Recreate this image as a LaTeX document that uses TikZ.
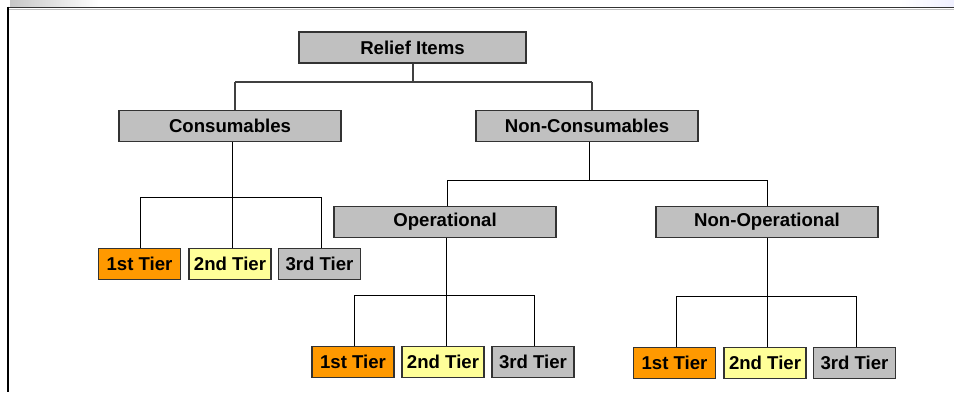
\documentclass[tikz,border=0pt]{standalone}
\usepackage{fontspec}
\setmainfont{Liberation Sans}
\definecolor{boxgray}{HTML}{C0C0C0}
\definecolor{tierorange}{HTML}{FF9900}
\definecolor{tieryellow}{HTML}{FFFF99}
\definecolor{edgegray}{HTML}{333333}
\begin{document}
\begin{tikzpicture}[x=1pt,y=-1pt,
  every node/.style={font=\fontsize{18.6}{21}\selectfont\bfseries, inner sep=0pt, text=black},
  catbox/.style={draw=edgegray, line width=1.3pt, fill=boxgray, minimum height=31pt},
  tierbox/.style={draw=edgegray, line width=1.3pt, minimum width=82pt, minimum height=31pt},
  conn/.style={draw=black, line width=1pt},
  busline/.style={draw=black!75, line width=1.5pt}]
\useasboundingbox (0,0) rectangle (954,392);
% frame
\shade[left color=gray!45, right color=white] (10,0) rectangle (100,6);
\shade[left color=white, right color=blue!6] (900,0) rectangle (954,6);
\draw[black!80, line width=1.6pt] (8,7.5) -- (954,7.5);
\draw[black!25, line width=0.8pt] (9,9.2) -- (954,9.2);
\draw[black, line width=2.6pt] (8,6.5) -- (8,392);
% boxes
\node[catbox, minimum width=227pt] (rel) at (412.5,47.5) {Relief Items};
\node[catbox, minimum width=222pt] (con) at (230,126) {Consumables};
\node[catbox, minimum width=222pt] (ncon) at (587,126) {Non-Consumables};
\node[catbox, minimum width=222pt] (op) at (445,222) {Operational};
\node[catbox, minimum width=222pt] (nop) at (767,222) {Non-Operational};
\node[tierbox, fill=tierorange] (c1) at (139.5,264) {1st Tier};
\node[tierbox, fill=tieryellow] (c2) at (230,264) {2nd Tier};
\node[tierbox, fill=boxgray] (c3) at (319.5,264) {3rd Tier};
\node[tierbox, fill=tierorange] (o1) at (353,362) {1st Tier};
\node[tierbox, fill=tieryellow] (o2) at (443,362) {2nd Tier};
\node[tierbox, fill=boxgray] (o3) at (533,362) {3rd Tier};
\node[tierbox, fill=tierorange] (n1) at (674.5,363) {1st Tier};
\node[tierbox, fill=tieryellow] (n2) at (765,363) {2nd Tier};
\node[tierbox, fill=boxgray] (n3) at (854.5,363) {3rd Tier};
% junction coordinates
\coordinate (rj) at (413,82);
\coordinate (rl) at (235,82);
\coordinate (rr) at (592,82);
\coordinate (cj) at (232,197);
\coordinate (cl) at (140,197);
\coordinate (cr) at (321,197);
\coordinate (nj) at (589,180);
\coordinate (nl) at (447,180);
\coordinate (nr) at (767,180);
\coordinate (oj) at (446,295);
\coordinate (ol) at (354,295);
\coordinate (or) at (534,295);
\coordinate (qj) at (767,296);
\coordinate (ql) at (676,296);
\coordinate (qr) at (856,296);
% level 1
\draw[busline] (rel.south -| rj) -- (rj);
\draw[busline] (rl) -- (rr);
\draw[busline] (rl) -- (rl |- con.north);
\draw[busline] (rr) -- (rr |- ncon.north);
% consumables
\draw[conn] (con.south -| cj) -- (cj);
\draw[conn] (cl) -- (cr);
\draw[conn] (cl) -- (cl |- c1.north);
\draw[conn] (cj) -- (cj |- c2.north);
\draw[conn] (cr) -- (cr |- c3.north);
% non-consumables
\draw[conn] (ncon.south -| nj) -- (nj);
\draw[conn] (nl) -- (nr);
\draw[conn] (nl) -- (nl |- op.north);
\draw[conn] (nr) -- (nr |- nop.north);
% operational
\draw[conn] (op.south -| oj) -- (oj);
\draw[conn] (ol) -- (or);
\draw[conn] (ol) -- (ol |- o1.north);
\draw[conn] (oj) -- (oj |- o2.north);
\draw[conn] (or) -- (or |- o3.north);
% non-operational
\draw[conn] (nop.south -| qj) -- (qj);
\draw[conn] (ql) -- (qr);
\draw[conn] (ql) -- (ql |- n1.north);
\draw[conn] (qj) -- (qj |- n2.north);
\draw[conn] (qr) -- (qr |- n3.north);
\end{tikzpicture}
\end{document}
